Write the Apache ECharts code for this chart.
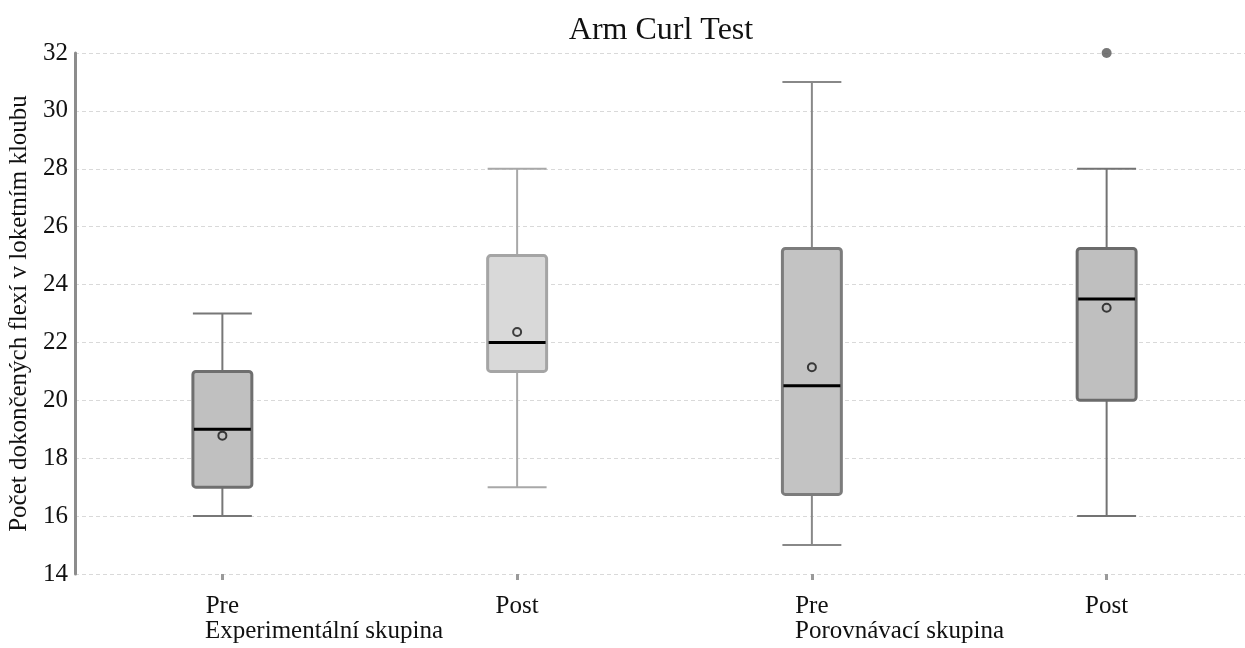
<!DOCTYPE html>
<html>
<head>
<meta charset="utf-8">
<script src="https://cdn.jsdelivr.net/npm/echarts@6/dist/echarts.min.js"></script>
<style>
  html, body { margin: 0; padding: 0; background: #fff; }
  #chart { width: 1245px; height: 648px; }
</style>
</head>
<body>
<div id="chart"></div>
<script>
// Box-plot statistics per group/time point
const categories = ['exp-pre', 'exp-post', 'por-pre', 'por-post'];
const tickLabels = ['Pre', 'Post', 'Pre', 'Post'];
const groupLabels = ['Experimentální skupina', 'Porovnávací skupina'];
const whiskerLow  = [16, 17, 15, 16];
const quartile1   = [17, 21, 16.75, 20];
const medians     = [19, 22, 20.5, 23.5];
const quartile3   = [21, 25, 25.25, 25.25];
const whiskerHigh = [23, 28, 31, 28];
const means       = [18.78, 22.36, 21.14, 23.2];
const outliers    = [[3, 32]];
const yTicks      = [14, 16, 18, 20, 22, 24, 26, 28, 30, 32];

// Per-box colours
const boxFill    = ['#c0c0c0', '#d9d9d9', '#c3c3c3', '#bfbfbf'];
const boxBorder  = ['#6f6f6f', '#a5a5a5', '#7c7c7c', '#6b6b6b'];
const whiskerCol = ['#777777', '#a8a8a8', '#888888', '#737373'];

const FONT = 'Liberation Serif';

const boxData = categories.map((c, i) => [i, whiskerLow[i], quartile1[i], medians[i], quartile3[i], whiskerHigh[i]]);
const meanData = means.map((m, i) => [i, m]);

const chart = echarts.init(document.getElementById('chart'));

chart.setOption({
  animation: false,
  backgroundColor: '#ffffff',
  title: {
    text: 'Arm Curl Test',
    left: 656,
    top: 10,
    textAlign: 'center',
    textStyle: { fontFamily: FONT, fontSize: 32, fontWeight: 'normal', color: '#111' }
  },
  grid: { left: 75, right: -9, top: 53, bottom: 74, containLabel: false, outerBoundsMode: 'none' },
  xAxis: {
    type: 'category',
    data: categories,
    boundaryGap: true,
    axisLine: { show: false },
    axisTick: { show: true, alignWithLabel: true, length: 6, lineStyle: { color: '#9a9a9a', width: 3 } },
    axisLabel: {
      margin: 20,
      fontFamily: FONT, fontSize: 25, color: '#111',
      formatter: (v, i) => tickLabels[i]
    },
    splitLine: { show: false }
  },
  yAxis: {
    type: 'value',
    min: 14, max: 32, interval: 2,
    name: 'Počet dokončených flexí v loketním kloubu',
    nameLocation: 'middle',
    nameGap: 37,
    nameRotate: 90,
    nameTextStyle: { fontFamily: FONT, fontSize: 25, color: '#111' },
    axisLine: { show: true, lineStyle: { color: '#8c8c8c', width: 3 } },
    axisTick: { show: false },
    axisLabel: {
      margin: 7,
      fontFamily: FONT, fontSize: 25, color: '#111',
      formatter: v => (yTicks.includes(v) ? String(v) : '')
    },
    splitLine: { show: true, lineStyle: { color: '#d9d9d9', width: 1, type: [4, 3] } }
  },
  graphic: [
    { type: 'text', left: 205, top: 619, style: { text: groupLabels[0], font: '25px "' + FONT + '"', fill: '#111' } },
    { type: 'text', left: 795, top: 619, style: { text: groupLabels[1], font: '25px "' + FONT + '"', fill: '#111' } }
  ],
  series: [
    {
      type: 'custom',
      data: boxData,
      z: 2,
      renderItem(params, api) {
        const idx = params.dataIndex;
        const x = api.value(0);
        const lo = api.coord([x, api.value(1)]);
        const q1 = api.coord([x, api.value(2)]);
        const md = api.coord([x, api.value(3)]);
        const q3 = api.coord([x, api.value(4)]);
        const hi = api.coord([x, api.value(5)]);
        const half = api.size([1, 0])[0] * 0.1;
        const cx = lo[0];
        const wStyle = { stroke: whiskerCol[idx], lineWidth: 2 };
        return {
          type: 'group',
          children: [
            { type: 'line', shape: { x1: cx, y1: lo[1], x2: cx, y2: q1[1] }, style: wStyle },
            { type: 'line', shape: { x1: cx, y1: q3[1], x2: cx, y2: hi[1] }, style: wStyle },
            { type: 'line', shape: { x1: cx - half, y1: lo[1], x2: cx + half, y2: lo[1] }, style: wStyle },
            { type: 'line', shape: { x1: cx - half, y1: hi[1], x2: cx + half, y2: hi[1] }, style: wStyle },
            {
              type: 'rect',
              shape: { x: cx - half, y: q3[1], width: half * 2, height: q1[1] - q3[1], r: 3 },
              style: { fill: boxFill[idx], stroke: boxBorder[idx], lineWidth: 3 }
            },
            {
              type: 'line',
              shape: { x1: cx - half + 1, y1: md[1], x2: cx + half - 1, y2: md[1] },
              style: { stroke: '#000', lineWidth: 3 }
            }
          ]
        };
      }
    },
    {
      type: 'scatter',
      data: meanData,
      z: 3,
      symbol: 'circle',
      symbolSize: 8,
      itemStyle: { color: 'rgba(0,0,0,0)', borderColor: '#151515', borderWidth: 2 }
    },
    {
      type: 'scatter',
      data: outliers,
      z: 3,
      symbol: 'circle',
      symbolSize: 10,
      itemStyle: { color: '#555555' }
    }
  ]
});
</script>
</body>
</html>
